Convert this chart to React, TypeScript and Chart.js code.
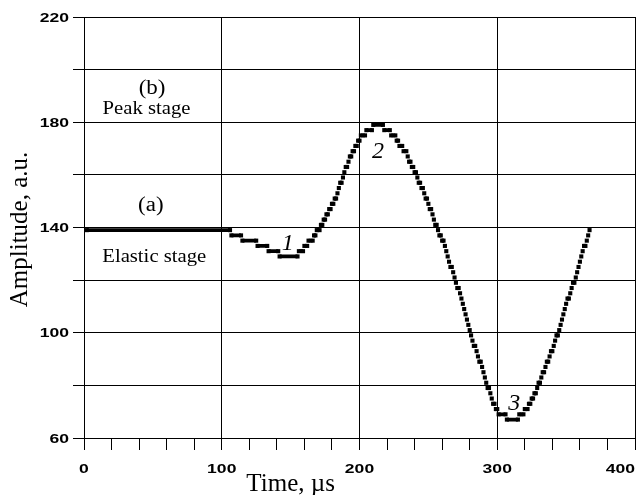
import React, { useEffect, useRef } from 'react';
import { Chart, registerables } from 'chart.js';

Chart.register(...registerables);

// Each run: samples (1 µs apart) from runStart to runEnd sitting on the same quantized amplitude level
const runStart = [2, 107, 115, 126, 134, 142,
  156, 160, 163, 167, 169, 172, 174, 176, 178, 180, 182, 184, 185, 186, 188, 189, 190, 192, 193, 195, 197, 199, 201, 205, 210,
  218, 223, 227, 229, 232, 235, 236, 238, 240, 242, 243, 245, 247, 248, 250, 251, 253, 254, 255, 257, 258, 260, 262, 263, 264, 265, 266, 268, 269, 270, 271, 273, 274, 275, 276, 277, 278, 279, 280, 281, 282, 283, 285, 286, 287, 289, 290, 291, 292, 293, 295, 296, 297, 299, 301, 307,
  316, 320, 323, 325, 327, 329, 330, 332, 333, 335, 336, 338, 339, 341, 342, 343, 345, 346, 347, 348, 349, 350, 351, 353, 354, 355, 357, 358, 359, 360, 361, 362, 363, 365, 366, 367];
const runEnd = [106, 114, 125, 133, 141, 155,
  159, 162, 166, 168, 171, 173, 175, 177, 179, 181, 183, 184, 185, 187, 188, 189, 191, 192, 194, 196, 198, 200, 204, 209, 217,
  222, 226, 228, 231, 234, 235, 237, 239, 241, 242, 244, 246, 247, 249, 250, 252, 253, 254, 256, 257, 259, 261, 262, 263, 264, 265, 267, 268, 269, 270, 272, 273, 274, 275, 276, 277, 278, 279, 280, 281, 282, 284, 285, 286, 288, 289, 290, 291, 292, 294, 295, 296, 298, 300, 306, 315,
  319, 322, 324, 326, 328, 329, 331, 332, 334, 335, 337, 338, 340, 341, 342, 344, 345, 346, 347, 348, 349, 350, 352, 353, 354, 356, 357, 358, 359, 360, 361, 362, 364, 365, 366, 367];
const runLevel = [139, 137, 135, 133, 131, 129,
  131, 133, 135, 137, 139, 141, 143, 145, 147, 149, 151, 153, 155, 157, 159, 161, 163, 165, 167, 169, 171, 173, 175, 177, 179,
  177, 175, 173, 171, 169, 167, 165, 163, 161, 159, 157, 155, 153, 151, 149, 147, 145, 143, 141, 139, 137, 135, 133, 131, 129, 127, 125, 123, 121, 119, 117, 115, 113, 111, 109, 107, 105, 103, 101, 99, 97, 95, 93, 91, 89, 87, 85, 83, 81, 79, 77, 75, 73, 71, 69, 67,
  69, 71, 73, 75, 77, 79, 81, 83, 85, 87, 89, 91, 93, 95, 97, 99, 101, 103, 105, 107, 109, 111, 113, 115, 117, 119, 121, 123, 125, 127, 129, 131, 133, 135, 137, 139];

const xLabelValues = [0, 100, 200, 300, 400];
const yLabelValues = [60, 100, 140, 180, 220];
const xTitle = 'Time, µs';
const yTitle = 'Amplitude, a.u.';

const noteTexts = ['(b)', 'Peak stage', '(a)', 'Elastic stage', '1', '2', '3'];
const noteTimes = [49.4, 45.4, 48.5, 51, 148, 213.5, 312.3];
const noteAmps = [190.9, 183.3, 146.1, 126.8, 131.6, 166.5, 70.7];

const SERIF = '"Liberation Serif", "Times New Roman", serif';
const noteFonts = [
  `20px ${SERIF}`, `18px ${SERIF}`, `20px ${SERIF}`, `18px ${SERIF}`,
  `italic 24px ${SERIF}`, `italic 24px ${SERIF}`, `italic 24px ${SERIF}`,
];
const noteStretch = [1.15, 1.15, 1.15, 1.15, 1, 1, 1];

function drawText(ctx: CanvasRenderingContext2D, text: string, x: number, y: number, font: string,
  align: CanvasTextAlign, baseline: CanvasTextBaseline, sx = 1, rot = 0) {
  ctx.save();
  ctx.translate(x, y);
  if (rot) ctx.rotate(rot);
  ctx.scale(sx, 1);
  ctx.font = font;
  ctx.textAlign = align;
  ctx.textBaseline = baseline;
  ctx.fillStyle = '#000';
  ctx.fillText(text, 0, 0);
  ctx.restore();
}

const overlay = {
  id: 'overlay',
  afterDraw(chart: any) {
    const { ctx, scales, chartArea } = chart;
    const xs = scales.x;
    const ys = scales.y;
    const tickFont = 'bold 13px "Liberation Sans", Arial, sans-serif';
    yLabelValues.forEach((v) => {
      drawText(ctx, String(v), ys.right - 15, ys.getPixelForValue(v) + 1, tickFont, 'right', 'middle', 1.35);
    });
    xLabelValues.forEach((v, i) => {
      const last = i === xLabelValues.length - 1;
      drawText(ctx, String(v), xs.getPixelForValue(v), xs.top + 31, tickFont, last ? 'right' : 'center', 'middle', 1.35);
    });
    drawText(ctx, xTitle, xs.getPixelForValue(150), xs.top + 53, `25px ${SERIF}`, 'center', 'alphabetic');
    drawText(ctx, yTitle, 27, (chartArea.top + chartArea.bottom) / 2 + 2, `25px ${SERIF}`, 'center', 'alphabetic', 1, -Math.PI / 2);
    noteTexts.forEach((t, i) => {
      drawText(ctx, t, xs.getPixelForValue(noteTimes[i]), ys.getPixelForValue(noteAmps[i]), noteFonts[i], 'center', 'alphabetic', noteStretch[i]);
    });
  },
};

export default function App() {
  const ref = useRef<HTMLCanvasElement>(null);
  useEffect(() => {
    const pts: { x: number; y: number | null }[] = [];
    for (let i = 0; i < runLevel.length; i++) {
      pts.push({ x: runStart[i], y: runLevel[i] });
      if (runEnd[i] !== runStart[i]) pts.push({ x: runEnd[i], y: runLevel[i] });
      pts.push({ x: runEnd[i] + 0.5, y: null });
    }
    const isMajor = (v: number) => Math.abs(v % 100) < 1e-6;
    const chart = new Chart(ref.current as HTMLCanvasElement, {
      type: 'line',
      data: {
        datasets: [{
          data: pts as any,
          borderColor: '#000',
          backgroundColor: '#000',
          borderWidth: 3.8,
          borderCapStyle: 'butt',
          pointStyle: 'rect',
          pointRadius: 2.9,
          pointHoverRadius: 2.9,
          pointBorderWidth: 0,
          pointBackgroundColor: '#000',
          spanGaps: false,
          tension: 0,
        }],
      },
      options: {
        animation: false,
        responsive: false,
        events: [],
        layout: { padding: { top: 17, right: 5, left: 0, bottom: 0 } },
        plugins: { legend: { display: false }, tooltip: { enabled: false } },
        scales: {
          x: {
            type: 'linear',
            min: 0,
            max: 400,
            ticks: { stepSize: 20, autoSkip: false, maxRotation: 0, callback: () => '' },
            grid: {
              color: (c: any) => (c.tick && isMajor(c.tick.value) ? '#000' : 'rgba(0,0,0,0)'),
              tickColor: '#000',
              tickLength: 12,
              lineWidth: 1,
            },
            border: { color: '#000', width: 1 },
            afterFit: (s: any) => { s.height = 57; s.paddingLeft = 0; s.paddingRight = 0; },
          },
          y: {
            type: 'linear',
            min: 60,
            max: 220,
            ticks: { stepSize: 20, autoSkip: false, callback: () => '' },
            grid: { color: '#000', tickColor: '#000', tickLength: 11, lineWidth: 1 },
            border: { color: '#000', width: 1 },
            afterFit: (s: any) => { s.width = 84; s.paddingTop = 0; s.paddingBottom = 0; },
          },
        },
      },
      plugins: [overlay],
    });
    return () => chart.destroy();
  }, []);
  return (
    <div style={{ position: 'fixed', left: 0, top: 0, width: 640, height: 495, background: '#fff' }}>
      <canvas ref={ref} width={640} height={495} style={{ width: 640, height: 495, display: 'block' }} />
    </div>
  );
}
